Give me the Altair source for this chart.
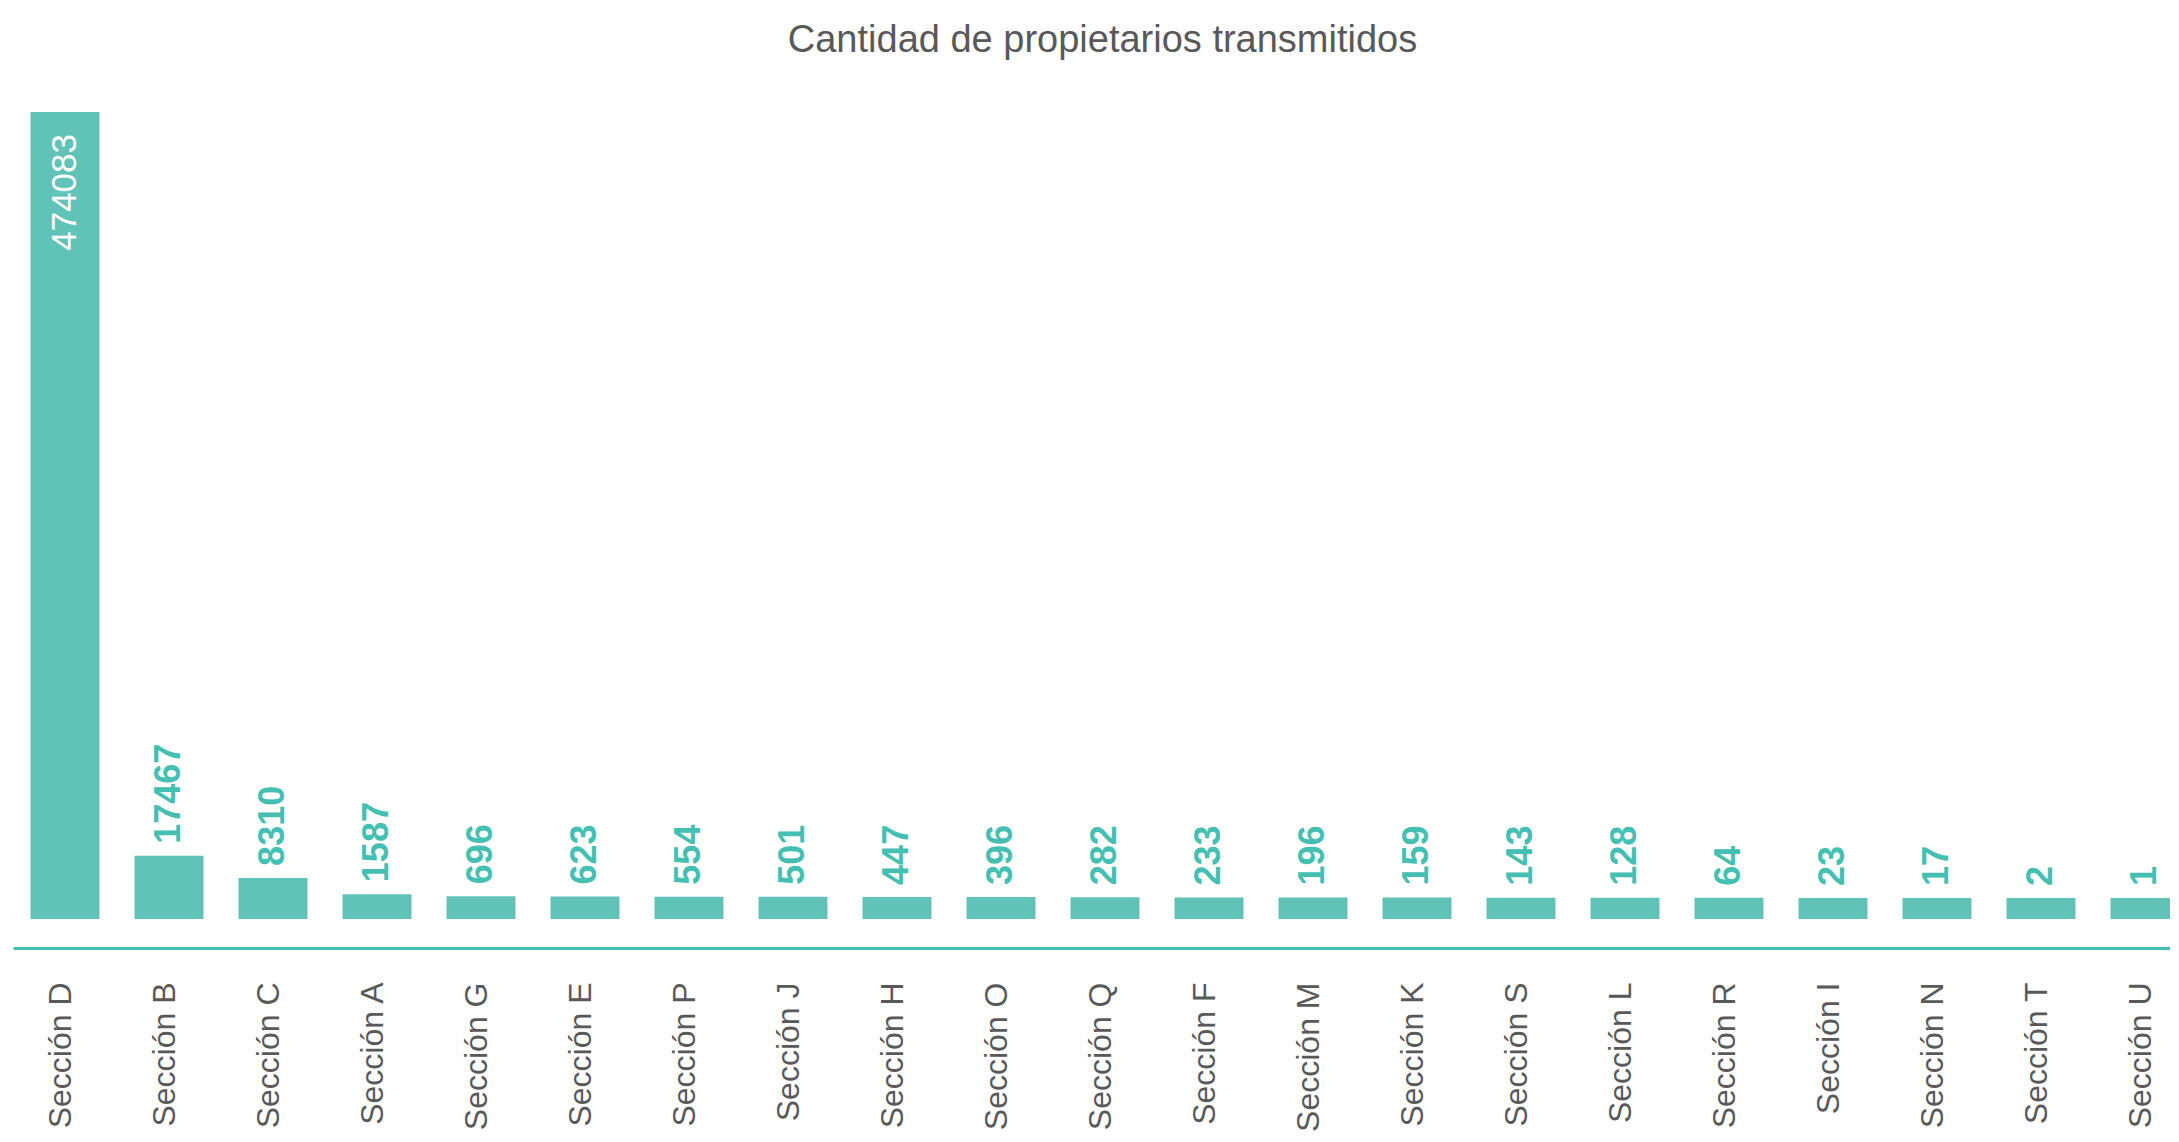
import altair as alt
import pandas as pd

categories = ["Sección D", "Sección B", "Sección C", "Sección A", "Sección G",
              "Sección E", "Sección P", "Sección J", "Sección H", "Sección O",
              "Sección Q", "Sección F", "Sección M", "Sección K", "Sección S",
              "Sección L", "Sección R", "Sección I", "Sección N", "Sección T",
              "Sección U"]
values = [474083, 17467, 8310, 1587, 696, 623, 554, 501, 447, 396, 282, 233,
          196, 159, 143, 128, 64, 23, 17, 2, 1]

Y_MIN = -8678
Y_MAX = 324793

df = pd.DataFrame({"seccion": categories, "valor": values})

FONT = "Liberation Sans"
BAR = "#61c3b8"
TEAL = "#45bfb2"
GRAY = "#595959"

x = alt.X("seccion:N", sort=None,
          scale=alt.Scale(paddingInner=0.337, paddingOuter=0.1685, range=[0, 2184]),
          axis=alt.Axis(title=None, ticks=False, domainColor=TEAL, domainWidth=3,
                        labelAngle=270, labelFontSize=32, labelColor=GRAY,
                        labelFont=FONT, labelPadding=34, labelOffset=-4,
                        offset=29, grid=False))
yscale = alt.Scale(domain=[Y_MIN, Y_MAX], clamp=True, nice=False, zero=False)

base = alt.Chart(df)

bars = base.mark_bar(color=BAR).encode(
    x=x,
    y=alt.Y("valor:Q", scale=yscale, axis=None),
    y2=alt.datum(Y_MIN),
)

outside = base.transform_filter(alt.datum.valor <= Y_MAX).mark_text(
    angle=270, align="left", baseline="middle", dx=12, font=FONT,
    fontSize=36, fontWeight="bold", color=TEAL
).encode(x=x, y=alt.Y("valor:Q", scale=yscale), text="valor:Q")

inside = base.transform_filter(alt.datum.valor > Y_MAX).mark_text(
    angle=270, align="right", baseline="middle", dx=-22, font=FONT,
    fontSize=35, fontWeight="normal", color="white"
).encode(x=x, y=alt.Y("valor:Q", scale=yscale), text="valor:Q")

chart = alt.layer(bars, outside, inside).properties(
    width=2157, height=807,
    title=alt.TitleParams("Cantidad de propietarios transmitidos", fontSize=38,
                          font=FONT, color=GRAY, fontWeight="normal",
                          anchor="middle", offset=52, dx=11),
    padding={"left": 5, "top": 104, "right": 0, "bottom": 215},
    autosize=alt.AutoSizeParams(type="none"),
).configure_view(stroke=None)

chart.save("out.html", embed_options={"renderer": "svg", "actions": False})
